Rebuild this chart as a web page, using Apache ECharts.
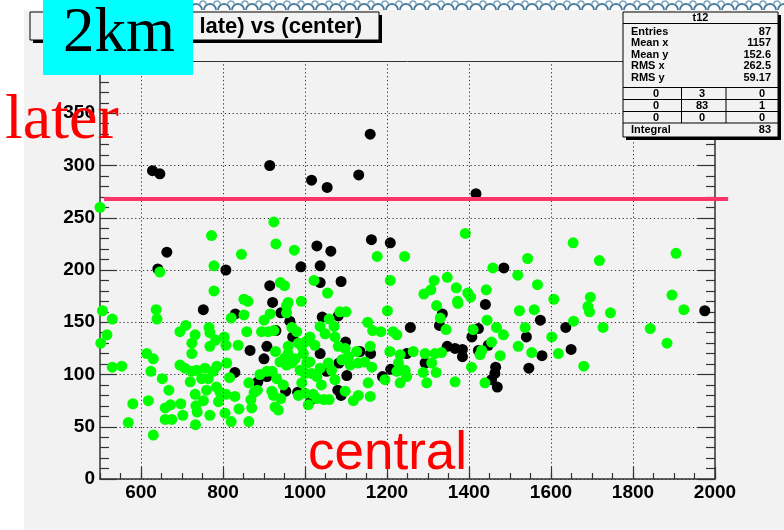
<!DOCTYPE html>
<html>
<head>
<meta charset="utf-8">
<script src="https://cdn.jsdelivr.net/npm/echarts@6/dist/echarts.min.js"></script>
<style>
  html, body { margin: 0; padding: 0; background: #ffffff; }
  #chart { width: 784px; height: 530px; }
</style>
</head>
<body>
<div id="chart"></div>
<script>
// Axis ranges and tick positions
const xRange = [500, 2000];
const yRange = [0, 400];
const xMajorTicks = [600, 800, 1000, 1200, 1400, 1600, 1800, 2000];
const xGridLines = [600, 800, 1000, 1200, 1400, 1600, 1800];

// Horizontal cut line (value and horizontal extent)
const cutLevel = 268;
const cutSpan = [510, 2032];

// Entries of t12 (drawn in black)
const blackPoints = [
  [628,295],[646,292],[914,300],[1016,286],[1054,279],[1131,291],[1159,330],[1417,273],
  [663,217],[641,201],[807,200],[1029,223],[1063,218],[990,203],[1037,204],[1037,188],
  [914,185],[921,169],[752,162],[830,158],[941,159],[963,151],[1042,155],[929,142],
  [1162,229],[1208,226],[1088,189],[1485,202],[1440,167],[1335,158],[1328,147],[1257,145],
  [1423,144],[1574,152],[1081,156],[970,136],[907,127],[866,123],[900,115],[1037,120],
  [1053,103],[885,93],[907,98],[829,102],[953,84],[982,83],[1015,76],[1099,131],
  [1134,122],[1160,120],[1083,111],[1102,99],[1080,85],[1088,80],[1189,98],[1209,105],
  [1248,120],[1293,111],[1347,127],[1366,125],[1384,124],[1384,117],[1407,136],[1423,123],
  [1447,128],[1465,107],[1463,101],[1455,95],[1469,88],[1540,136],[1546,106],[1578,118],
  [1636,145],[1649,124],[1975,161]
];

// Full sample (drawn in green)
const greenPoints = [
  [500,260],[924,246],[772,233],[929,225],[974,219],[845,215],[778,204],[646,198],
  [940,188],[950,185],[778,180],[851,172],[861,170],[959,169],[955,166],[506,161],
  [530,153],[637,162],[639,153],[851,157],[820,154],[915,158],[955,159],[900,152],
  [709,147],[766,145],[695,141],[732,138],[768,140],[858,141],[894,141],[910,141],
  [924,142],[968,145],[980,141],[517,138],
  [502,130],[530,107],[553,108],[614,120],[630,115],[624,103],[580,72],[569,54],
  [618,75],[630,42],[652,96],[668,85],[659,68],[672,71],[659,57],[675,57],
  [697,72],[702,61],[695,109],[707,106],[724,103],[736,104],[720,93],[756,106],
  [776,103],[785,108],[748,96],[764,96],[732,81],[734,70],[737,64],[733,52],
  [752,75],[760,85],[768,61],[724,130],[768,127],[724,120],[803,136],[807,128],
  [809,111],[782,133],[784,88],[793,83],[807,81],[789,74],[805,63],[820,55],
  [829,79],[839,67],[816,97],[837,128],[863,92],[868,76],[870,68],[863,55],
  [876,83],[884,85],[890,100],[907,103],[920,103],[928,122],[919,84],[923,80],
  [927,69],[935,66],[941,77],[931,96],[947,90],[939,112],[951,116],[959,120],
  [968,111],[976,115],[955,109],[959,127],[984,130],[984,80],
  [991,170],[1022,190],[1037,146],[1012,136],[1004,132],[1024,128],[992,127],[996,120],
  [1012,112],[1037,106],[1004,111],[1000,101],[1029,98],[992,92],[1040,90],[1020,81],
  [1000,82],[1029,77],[1008,71],[1046,76],[1016,101],[988,104],
  [1391,235],[1176,213],[1243,213],[1543,211],[1458,202],[1519,195],[1208,190],[1315,190],
  [1347,193],[1567,186],[1055,178],[1290,177],[1307,181],[1369,183],[1397,178],[1404,174],
  [1442,181],[1372,170],[1373,168],[1321,166],[1607,172],[1201,161],[1523,161],[1559,162],
  [1085,160],[1100,160],[1330,154],[1444,152],[1059,153],[1071,146],[1153,150],[1165,142],
  [1185,141],[1215,141],[1344,143],[1410,143],[1467,145],[1537,145],
  [1049,139],[1073,136],[1081,127],[1098,125],[1106,117],[1090,114],[1110,109],[1130,111],
  [1146,112],[1159,127],[1163,107],[1154,92],[1159,79],[1130,80],[1118,75],[1098,84],
  [1073,95],[1065,104],[1057,111],[1059,76],[1126,122],[1224,138],[1207,122],[1232,119],
  [1228,111],[1244,104],[1248,98],[1264,122],[1293,120],[1309,111],[1317,120],[1333,121],
  [1288,102],[1297,92],[1224,103],[1195,95],[1232,92],[1366,93],[1320,102],[1406,107],
  [1431,123],[1427,119],[1455,131],[1476,118],[1439,92],[1484,138],[1520,127],[1553,121],
  [1602,136],[1618,120],
  [1654,226],[1718,209],[1905,216],[1696,174],[1690,165],[1694,160],[1745,159],[1655,151],
  [1680,108],[1727,145],[1842,144],[1883,130],[1895,176],[1924,162]
];

// Statistics panel contents
const statsTitle = 't12';
const statsRows = [
  ['Entries', '87'],
  ['Mean x', '1157'],
  ['Mean y', '152.6'],
  ['RMS x', '262.5'],
  ['RMS y', '59.17']
];
const statsCells = [
  ['0', '3', '0'],
  ['0', '83', '1'],
  ['0', '0', '0']
];
const statsIntegral = ['Integral', '83'];

const titleText = '(center late) vs (center)';
const tagText = '2km';
const laterText = 'later';
const centralText = 'central';

const AXIS_COLOR = '#333333';
const GRID_DOT = { type: [1.3, 2.6], color: '#3a3a3a', width: 1 };
const BOLD = 'bold';
const SANS = '"Liberation Sans", Arial, Helvetica, sans-serif';
const SERIF = '"Liberation Serif", "Times New Roman", serif';

const chart = echarts.init(document.getElementById('chart'), null, { renderer: 'canvas' });

// Statistics panel graphic elements
const stats = [];
const sx = 623, sy = 12, sw = 155, sh = 125;
stats.push({ type: 'rect', shape: { x: sx + 3, y: sy + 3, width: sw, height: sh }, style: { fill: '#000' }, z: 100 });
stats.push({ type: 'rect', shape: { x: sx, y: sy, width: sw, height: sh }, style: { fill: '#f2f2f2', stroke: '#000', lineWidth: 1 }, z: 101 });
stats.push({ type: 'text', x: sx + sw / 2, y: 18, style: { text: statsTitle, font: 'bold 11px ' + SANS, fill: '#000', textAlign: 'center', textVerticalAlign: 'middle' }, z: 102 });
stats.push({ type: 'line', shape: { x1: sx, y1: 23.5, x2: sx + sw, y2: 23.5 }, style: { stroke: '#000', lineWidth: 1 }, z: 102 });
const rowY = [31.5, 43, 54.5, 66, 77.5];
statsRows.forEach((r, i) => {
  stats.push({ type: 'text', x: 631, y: rowY[i], style: { text: r[0], font: 'bold 11px ' + SANS, fill: '#000', textAlign: 'left', textVerticalAlign: 'middle' }, z: 102 });
  stats.push({ type: 'text', x: 771, y: rowY[i], style: { text: r[1], font: 'bold 11px ' + SANS, fill: '#000', textAlign: 'right', textVerticalAlign: 'middle' }, z: 102 });
});
const cellLines = [87.5, 99.5, 111.5, 123];
cellLines.forEach(v => {
  stats.push({ type: 'line', shape: { x1: sx, y1: v, x2: sx + sw, y2: v }, style: { stroke: '#000', lineWidth: 1 }, z: 102 });
});
[681.5, 726].forEach(v => {
  stats.push({ type: 'line', shape: { x1: v, y1: 87.5, x2: v, y2: 123 }, style: { stroke: '#000', lineWidth: 1 }, z: 102 });
});
const cellX = [656, 702, 762];
const cellY = [93.5, 105.5, 117.5];
statsCells.forEach((row, i) => {
  row.forEach((c, j) => {
    stats.push({ type: 'text', x: cellX[j], y: cellY[i], style: { text: c, font: 'bold 11px ' + SANS, fill: '#000', textAlign: 'center', textVerticalAlign: 'middle' }, z: 102 });
  });
});
stats.push({ type: 'text', x: 631, y: 129.5, style: { text: statsIntegral[0], font: 'bold 11px ' + SANS, fill: '#000', textAlign: 'left', textVerticalAlign: 'middle' }, z: 102 });
stats.push({ type: 'text', x: 771, y: 129.5, style: { text: statsIntegral[1], font: 'bold 11px ' + SANS, fill: '#000', textAlign: 'right', textVerticalAlign: 'middle' }, z: 102 });

// Decorative scalloped strip along the top edge
const strip = [];
for (let cx = 196; cx < 792; cx += 14) {
  strip.push({ type: 'arc', shape: { cx: cx, cy: 10, r: 6, startAngle: Math.PI, endAngle: 2 * Math.PI }, style: { stroke: '#4f7f9e', lineWidth: 2, fill: null }, z: 5, silent: true });
  strip.push({ type: 'arc', shape: { cx: cx + 7, cy: 4, r: 3, startAngle: Math.PI, endAngle: 2 * Math.PI }, style: { stroke: '#7ea6bf', lineWidth: 1.5, fill: null }, z: 5, silent: true });
}

const option = {
  animation: false,
  backgroundColor: '#ffffff',
  grid: { left: 100, top: 61, width: 615, height: 418, show: false },
  xAxis: [
    {
      type: 'value', position: 'bottom', min: xRange[0], max: xRange[1], interval: 50,
      axisLine: { show: true, onZero: false, lineStyle: { color: AXIS_COLOR, width: 1.5 } },
      axisTick: { show: true, inside: true, length: 6, lineStyle: { color: AXIS_COLOR, width: 1.2 } },
      axisLabel: { customValues: xMajorTicks, formatter: v => String(v), margin: 4, color: '#000', fontFamily: SANS, fontWeight: BOLD, fontSize: 19 },
      splitLine: { show: false }
    },
    {
      type: 'value', position: 'bottom', min: xRange[0], max: xRange[1],
      axisLine: { show: false, onZero: false },
      axisTick: { show: true, inside: true, length: 12, customValues: xMajorTicks, lineStyle: { color: AXIS_COLOR, width: 1.2 } },
      axisLabel: { show: false },
      splitLine: { show: false }
    },
    {
      type: 'value', position: 'top', min: xRange[0], max: xRange[1],
      axisLine: { show: true, onZero: false, lineStyle: { color: AXIS_COLOR, width: 1 } },
      axisTick: { show: false },
      axisLabel: { show: false },
      splitLine: { show: false }
    }
  ],
  yAxis: [
    {
      type: 'value', position: 'left', min: yRange[0], max: yRange[1], interval: 50,
      axisLine: { show: true, onZero: false, lineStyle: { color: AXIS_COLOR, width: 1.5 } },
      axisTick: { show: true, inside: true, length: 17, lineStyle: { color: AXIS_COLOR, width: 1.2 } },
      minorTick: { show: true, splitNumber: 5, length: 9, lineStyle: { color: AXIS_COLOR, width: 1.2 } },
      axisLabel: { margin: 5, color: '#000', fontFamily: SANS, fontWeight: BOLD, fontSize: 19 },
      splitLine: { show: true, lineStyle: GRID_DOT }
    },
    {
      type: 'value', position: 'right', min: yRange[0], max: yRange[1], interval: 50,
      axisLine: { show: true, onZero: false, lineStyle: { color: AXIS_COLOR, width: 1.5 } },
      axisTick: { show: true, inside: true, length: 17, lineStyle: { color: AXIS_COLOR, width: 1.2 } },
      minorTick: { show: true, splitNumber: 5, length: 9, lineStyle: { color: AXIS_COLOR, width: 1.2 } },
      axisLabel: { show: false },
      splitLine: { show: false }
    }
  ],
  series: [
    {
      // vertical dotted grid
      type: 'scatter', data: [], z: 1, silent: true,
      markLine: {
        silent: true, symbol: 'none', label: { show: false },
        lineStyle: GRID_DOT, emphasis: { disabled: true },
        data: xGridLines.map(v => ({ xAxis: v }))
      }
    },
    {
      name: 't12', type: 'scatter', data: blackPoints, symbol: 'circle', symbolSize: 11, clip: false,
      itemStyle: { color: '#000000', opacity: 1 }, z: 3, silent: true
    },
    {
      name: 'all', type: 'scatter', data: greenPoints, symbol: 'circle', symbolSize: 11, clip: false,
      itemStyle: { color: '#00ff00', opacity: 1 }, z: 4, silent: true
    }
  ],
  graphic: [
    // canvas background
    { type: 'rect', shape: { x: 24, y: 10, width: 760, height: 520 }, style: { fill: '#f2f2f2' }, z: -10, silent: true },
    // title box with shadow
    { type: 'rect', shape: { x: 33, y: 15, width: 349, height: 28 }, style: { fill: '#000' }, z: 50 },
    { type: 'rect', shape: { x: 30, y: 12, width: 349, height: 28 }, style: { fill: '#f2f2f2', stroke: '#000', lineWidth: 1 }, z: 51 },
    { type: 'text', x: 362, y: 27, style: { text: titleText, font: 'bold 22px ' + SANS, fill: '#000', textAlign: 'right', textVerticalAlign: 'middle' }, z: 52 },
    // tag
    { type: 'rect', shape: { x: 43, y: 0, width: 150, height: 75 }, style: { fill: '#00ffff' }, z: 60 },
    { type: 'text', x: 119, y: 66, style: { text: tagText, font: '63px ' + SERIF, fill: '#000', textAlign: 'center', textVerticalAlign: 'bottom' }, z: 61 },
    // annotations
    { type: 'text', x: 5, y: 153, style: { text: laterText, font: '64px ' + SERIF, fill: '#ff0000', textAlign: 'left', textVerticalAlign: 'bottom' }, z: 62 },
    { type: 'text', x: 308, y: 481, style: { text: centralText, font: '53px ' + SANS, fill: '#ff0000', textAlign: 'left', textVerticalAlign: 'bottom' }, z: 62 }
  ].concat(stats, strip)
};

chart.setOption(option);

// Cut line, placed through the chart's own coordinate conversion
const p0 = chart.convertToPixel({ gridIndex: 0 }, [cutSpan[0], cutLevel]);
const p1 = chart.convertToPixel({ gridIndex: 0 }, [cutSpan[1], cutLevel]);
chart.setOption({
  graphic: [{
    id: 'cutLine', type: 'line',
    shape: { x1: p0[0], y1: p0[1], x2: p1[0], y2: p1[1] },
    style: { stroke: '#ff3366', lineWidth: 4 }, z: 20, silent: true
  }]
});
</script>
</body>
</html>
